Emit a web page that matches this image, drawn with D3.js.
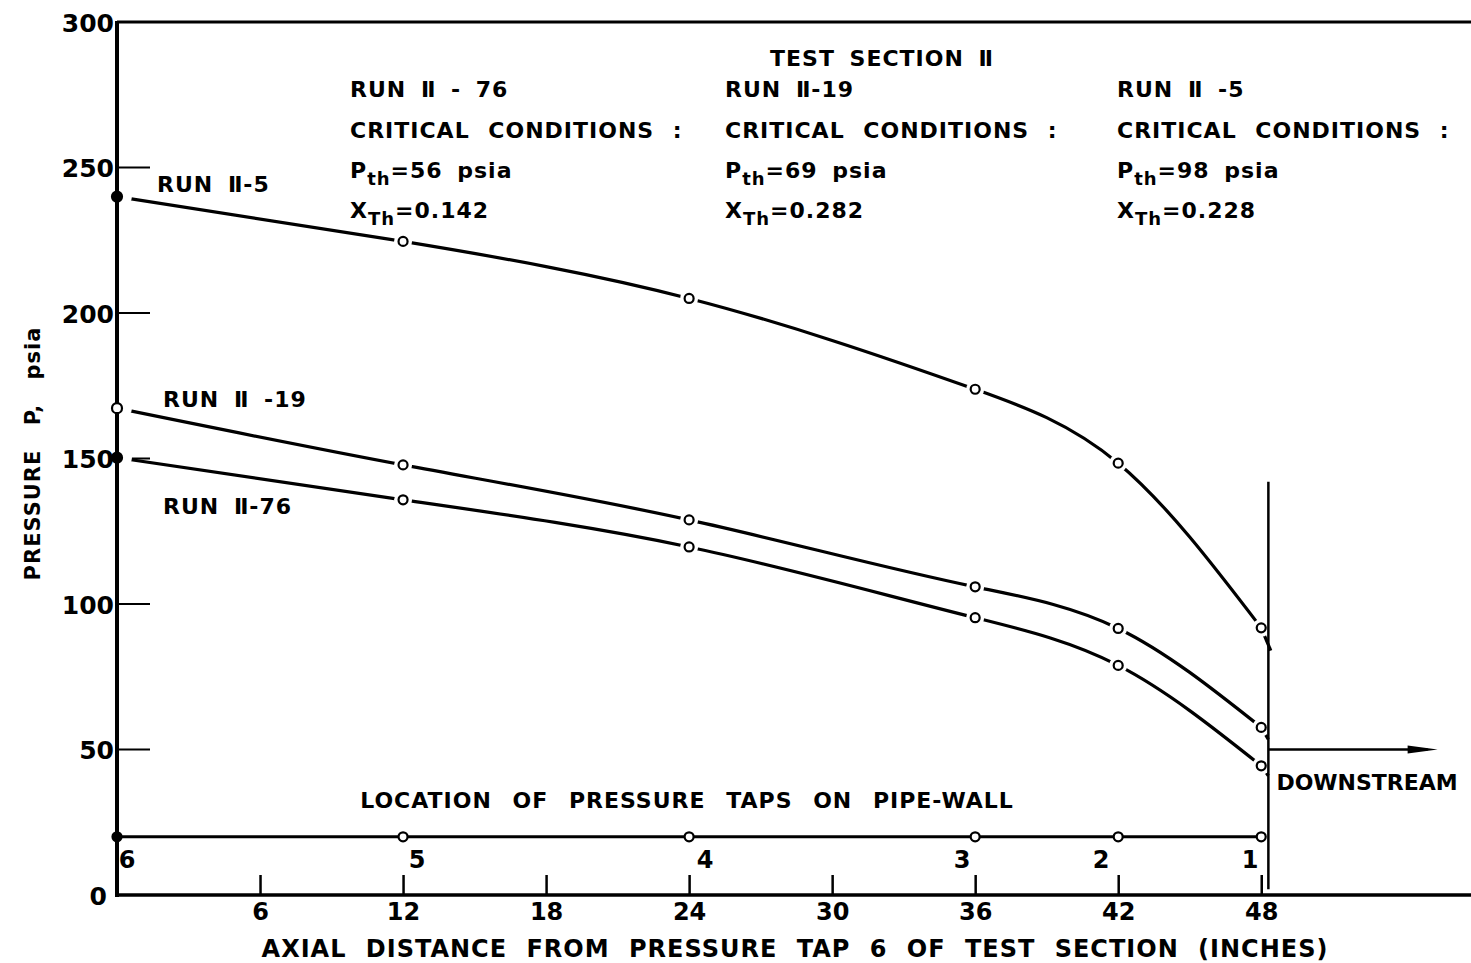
<!DOCTYPE html>
<html>
<head>
<meta charset="utf-8">
<script src="https://cdn.jsdelivr.net/npm/d3@7/dist/d3.min.js"></script>
<style>
  body { margin: 0; background: #fff; }
  svg text { font-family: 'DejaVu Sans', sans-serif; fill: #000; }
</style>
</head>
<body>
<div id="chart"></div>
<script>
// axial distance of the pressure taps (inches) and their numbers
const tapDistance = [0, 12, 24, 36, 42, 48]
const tapNames = ['6', '5', '4', '3', '2', '1']
const tapLinePressure = 20

// measured pressures (psia) at each tap
const run5 = [240, 224.6, 205, 173.8, 148.4, 91.8]
const run19 = [167.3, 147.8, 128.9, 105.9, 91.6, 57.6]
const run76 = [150.3, 135.8, 119.6, 95.3, 78.9, 44.4]

// where each curve runs on past tap 1 (distance, pressure)
const run5Tail = [48.4, 84]
const run19Tail = [48.3, 53.5]
const run76Tail = [48.3, 41]

const xTicks = [6, 12, 18, 24, 30, 36, 42, 48]
const yTicks = [0, 50, 100, 150, 200, 250, 300]

// exit plane and downstream flow arrow
const exitDistance = 48.3
const exitRange = [2, 142]
const downstreamPressure = 50
const downstreamEnd = 55.4

const W = 1471, H = 963

/**
* Curve factory: natural cubic spline of y against x (uneven spacing),
* written out as bezier segments.
**/
function curveSplineX(context)
{
    let pts = []
    return {
        areaStart: function() {},
        areaEnd: function() {},
        lineStart: function() { pts = [] },
        point: function(px, py) { pts.push([+px, +py]) },
        lineEnd: function()
        {
            let n = pts.length
            if (n < 2) return
            let h = [], M = new Array(n).fill(0)
            for (let i = 0; i < n - 1; i++) h.push(pts[i + 1][0] - pts[i][0])
            // Thomas algorithm for the inner second derivatives
            let a = [], b = [], c = [], d = []
            for (let i = 1; i < n - 1; i++)
            {
                a.push(h[i - 1])
                b.push(2 * (h[i - 1] + h[i]))
                c.push(h[i])
                d.push(6 * ((pts[i + 1][1] - pts[i][1]) / h[i] - (pts[i][1] - pts[i - 1][1]) / h[i - 1]))
            }
            let m = b.length
            for (let i = 1; i < m; i++)
            {
                let w = a[i] / b[i - 1]
                b[i] -= w * c[i - 1]
                d[i] -= w * d[i - 1]
            }
            for (let i = m - 1; i >= 0; i--)
                M[i + 1] = (d[i] - (i < m - 1 ? c[i] * M[i + 2] : 0)) / b[i]

            context.moveTo(pts[0][0], pts[0][1])
            for (let i = 0; i < n - 1; i++)
            {
                let s = (pts[i + 1][1] - pts[i][1]) / h[i]
                let d0 = s - h[i] * (2 * M[i] + M[i + 1]) / 6
                let d1 = s + h[i] * (M[i] + 2 * M[i + 1]) / 6
                context.bezierCurveTo(
                    pts[i][0] + h[i] / 3, pts[i][1] + d0 * h[i] / 3,
                    pts[i + 1][0] - h[i] / 3, pts[i + 1][1] - d1 * h[i] / 3,
                    pts[i + 1][0], pts[i + 1][1])
            }
        }
    }
}

let svg = d3.select('#chart')
    .append('svg')
    .attr('width', W)
    .attr('height', H)

svg.append('rect').attr('width', W).attr('height', H).attr('fill', '#fff')

let x = d3.scaleLinear().domain([0, 56.8]).range([117, 1471])
let y = d3.scaleLinear().domain([0, 300]).range([895, 22])

// ---- frame ----
svg.append('line')
    .attr('x1', x(0)).attr('x2', W)
    .attr('y1', y(300)).attr('y2', y(300))
    .attr('stroke', '#000').attr('stroke-width', 3)

// x axis: ticks pointing up, labels below
let xAxis = svg.append('g')
    .attr('transform', 'translate(0,' + y(0) + ')')
    .call(d3.axisBottom(x).tickValues(xTicks).tickSize(-20).tickPadding(8))
xAxis.select('.domain').remove()
xAxis.selectAll('.tick line').attr('stroke', '#000').attr('stroke-width', 2.5)
xAxis.selectAll('.tick text')
    .attr('y', 8)
    .style('font-size', '24px')
    .style('font-weight', 'bold')
svg.append('line')
    .attr('x1', x(0) - 2).attr('x2', W)
    .attr('y1', y(0)).attr('y2', y(0))
    .attr('stroke', '#000').attr('stroke-width', 3.5)

// y axis: ticks pointing in
let yAxis = svg.append('g')
    .attr('transform', 'translate(' + x(0) + ',0)')
    .call(d3.axisLeft(y).tickValues(yTicks).tickSize(0).tickPadding(4))
yAxis.select('.domain').remove()
yAxis.selectAll('.tick text')
    .attr('dy', '0.36em')
    .style('font-size', '25px')
    .style('font-weight', 'bold')
    .attr('x', d => d == 0 ? -10 : -3)
svg.append('g')
    .selectAll('line')
    .data(yTicks.filter(d => d > 0 && d < 300))
    .enter()
    .append('line')
    .attr('x1', x(0)).attr('x2', x(0) + 33)
    .attr('y1', d => y(d)).attr('y2', d => y(d))
    .attr('stroke', '#000').attr('stroke-width', 2)

svg.append('text')
    .attr('transform', 'translate(32,' + (y(150) - 5) + ') rotate(-90)')
    .attr('text-anchor', 'middle')
    .attr('dy', '0.36em')
    .style('font-size', '21px')
    .style('font-weight', 'bold')
    .style('letter-spacing', '1px')
    .style('word-spacing', '16px')
    .text('PRESSURE  P, psia')

svg.append('text')
    .attr('x', 795).attr('y', 957)
    .attr('text-anchor', 'middle')
    .style('font-size', '24px')
    .style('font-weight', 'bold')
    .style('letter-spacing', '1px')
    .style('word-spacing', '10px')
    .text('AXIAL DISTANCE FROM PRESSURE TAP 6 OF TEST SECTION (INCHES)')

// ---- curves ----
let line = d3.line()
    .x(d => x(d[0]))
    .y(d => y(d[1]))
    .curve(curveSplineX)

let straight = d3.line()
    .x(d => x(d[0]))
    .y(d => y(d[1]))

let runs = [
    {values: run5, tail: run5Tail, openStart: false},
    {values: run19, tail: run19Tail, openStart: true},
    {values: run76, tail: run76Tail, openStart: false}
]

runs.forEach(r =>
{
    let pts = tapDistance.map((d, i) => [d, r.values[i]])
    svg.append('path')
        .attr('d', line(pts) + straight([pts[pts.length - 1], r.tail]))
        .attr('fill', 'none')
        .attr('stroke', '#000')
        .attr('stroke-width', 3.2)

    // white halo gives the little gaps where the pen stopped at each point
    svg.append('g')
        .selectAll('circle')
        .data(pts)
        .enter()
        .append('circle')
        .attr('cx', (d, i) => x(d[0]) + (i == 0 ? 6 : 0))
        .attr('cy', d => y(d[1]))
        .attr('r', 9)
        .attr('fill', '#fff')

    svg.append('g')
        .selectAll('circle')
        .data(pts.slice(1))
        .enter()
        .append('circle')
        .attr('cx', d => x(d[0]))
        .attr('cy', d => y(d[1]))
        .attr('r', 4.5)
        .attr('fill', '#fff')
        .attr('stroke', '#000')
        .attr('stroke-width', 2.2)
})

// y axis drawn over the halos
svg.append('line')
    .attr('x1', x(0)).attr('x2', x(0))
    .attr('y1', y(0) + 2).attr('y2', y(300) - 1)
    .attr('stroke', '#000').attr('stroke-width', 4)
runs.forEach(r =>
{
    svg.append('circle')
        .attr('cx', x(0)).attr('cy', y(r.values[0]))
        .attr('r', 5)
        .attr('fill', r.openStart ? '#fff' : '#000')
        .attr('stroke', '#000').attr('stroke-width', 2.2)
})

// ---- pressure tap locations ----
svg.append('line')
    .attr('x1', x(0)).attr('x2', x(48))
    .attr('y1', y(tapLinePressure)).attr('y2', y(tapLinePressure))
    .attr('stroke', '#000').attr('stroke-width', 3)
svg.append('g')
    .selectAll('circle')
    .data(tapDistance)
    .enter()
    .append('circle')
    .attr('cx', d => x(d))
    .attr('cy', y(tapLinePressure))
    .attr('r', 4.5)
    .attr('fill', (d, i) => i == 0 ? '#000' : '#fff')
    .attr('stroke', '#000').attr('stroke-width', 2.2)
let tapShift = [10, 14, 16, -13, -17, -11]
svg.append('g')
    .selectAll('text')
    .data(tapDistance)
    .enter()
    .append('text')
    .attr('x', (d, i) => x(d) + tapShift[i])
    .attr('y', y(tapLinePressure) + 31)
    .attr('text-anchor', 'middle')
    .style('font-size', '24px')
    .style('font-weight', 'bold')
    .text((d, i) => tapNames[i])

svg.append('text')
    .attr('x', 687).attr('y', 808)
    .attr('text-anchor', 'middle')
    .style('font-size', '22px')
    .style('font-weight', 'bold')
    .style('letter-spacing', '1px')
    .style('word-spacing', '12px')
    .text('LOCATION OF PRESSURE TAPS ON PIPE-WALL')

// ---- exit plane & downstream arrow ----
svg.append('line')
    .attr('x1', x(exitDistance)).attr('x2', x(exitDistance))
    .attr('y1', y(exitRange[1])).attr('y2', y(exitRange[0]))
    .attr('stroke', '#000').attr('stroke-width', 2.5)
svg.append('line')
    .attr('x1', x(exitDistance)).attr('x2', x(downstreamEnd) - 10)
    .attr('y1', y(downstreamPressure)).attr('y2', y(downstreamPressure))
    .attr('stroke', '#000').attr('stroke-width', 2.5)
svg.append('path')
    .attr('d', d3.line()([
        [x(downstreamEnd) - 30, y(downstreamPressure) - 4],
        [x(downstreamEnd), y(downstreamPressure)],
        [x(downstreamEnd) - 30, y(downstreamPressure) + 4]
    ]))
    .attr('fill', '#000')
svg.append('text')
    .attr('x', x(exitDistance) + 8).attr('y', 790)
    .style('font-size', '22px')
    .style('font-weight', 'bold')
    .text('DOWNSTREAM')

// ---- annotations ----
function label(tx, ty, str)
{
    return svg.append('text')
        .attr('x', tx).attr('y', ty)
        .style('font-size', '22px')
        .style('font-weight', 'bold')
        .style('letter-spacing', '1px')
        .style('word-spacing', '6px')
        .text(str)
}

label(157, 192, 'RUN Ⅱ-5')
label(163, 407, 'RUN Ⅱ -19')
label(163, 514, 'RUN Ⅱ-76')
label(770, 66, 'TEST SECTION Ⅱ')

let conditions = [
    {x: 350, run: 'RUN Ⅱ - 76', p: '56', xth: '0.142'},
    {x: 725, run: 'RUN Ⅱ-19', p: '69', xth: '0.282'},
    {x: 1117, run: 'RUN Ⅱ -5', p: '98', xth: '0.228'}
]

conditions.forEach(c =>
{
    label(c.x, 97, c.run)
    label(c.x, 138, 'CRITICAL CONDITIONS :').style('word-spacing', '10px')

    let p = label(c.x, 178, '')
    p.append('tspan').text('P')
    p.append('tspan').attr('dy', 7).style('font-size', '18px').text('th')
    p.append('tspan').attr('dy', -7).text('=' + c.p + ' psia')

    let t = label(c.x, 218, '')
    t.append('tspan').text('X')
    t.append('tspan').attr('dy', 7).style('font-size', '18px').text('Th')
    t.append('tspan').attr('dy', -7).text('=' + c.xth)
})
</script>
</body>
</html>
